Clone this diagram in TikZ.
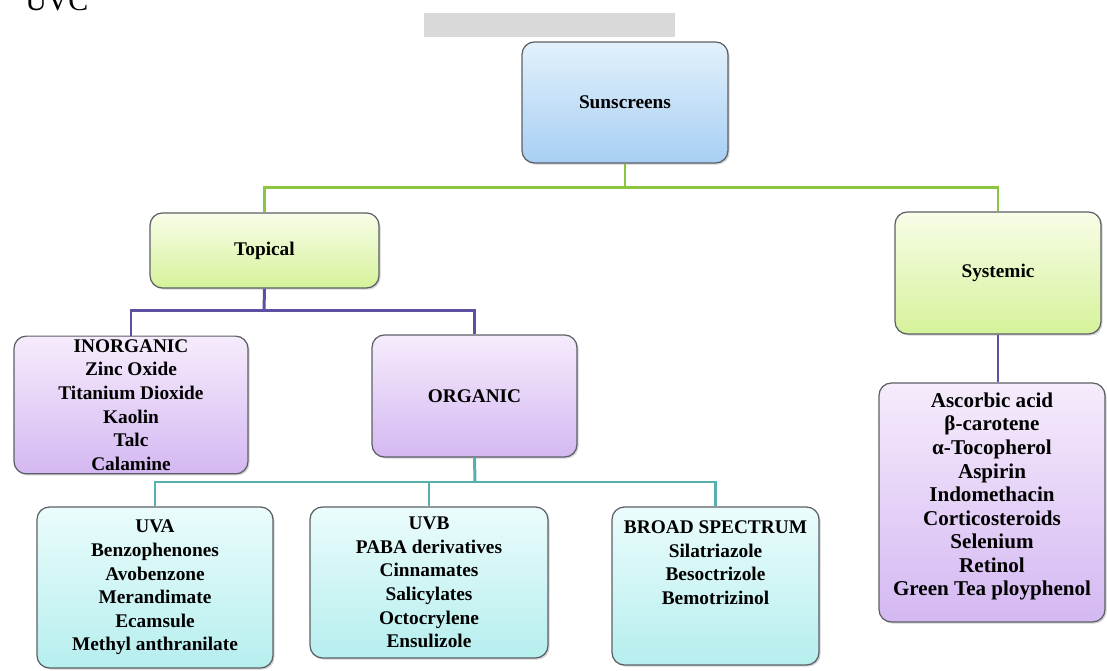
\documentclass[tikz,border=0pt]{standalone}
\usepackage{fontspec}
\setmainfont{Liberation Serif}
\usetikzlibrary{shadows}
\definecolor{skytop}{HTML}{E2F1FB}
\definecolor{skybot}{HTML}{A8CFF4}
\definecolor{limetop}{HTML}{F8FDE8}
\definecolor{limebot}{HTML}{D6F29A}
\definecolor{liltop}{HTML}{F6ECFC}
\definecolor{lilbot}{HTML}{D4B8F2}
\definecolor{aquatop}{HTML}{EBFCFC}
\definecolor{aquabot}{HTML}{B6EEEE}
\definecolor{rim}{HTML}{5C6066}
\definecolor{grass}{HTML}{8CC63F}
\definecolor{plum}{HTML}{5E4FA2}
\definecolor{lagoon}{HTML}{55B0AE}
\definecolor{bargray}{HTML}{D9D9D9}
\begin{document}
\begin{tikzpicture}[x=0.02cm, y=-0.02cm,
  font=\bfseries\fontsize{11}{13.4}\selectfont,
  cell/.style={draw=rim, line width=0.7pt, rounded corners=7pt, align=center, inner sep=2pt,
    drop shadow={shadow xshift=0.9pt, shadow yshift=-0.9pt, opacity=0.35}},
  sky/.style={cell, top color=skytop, bottom color=skybot},
  lime/.style={cell, top color=limetop, bottom color=limebot},
  lilac/.style={cell, top color=liltop, bottom color=lilbot},
  aqua/.style={cell, top color=aquatop, bottom color=aquabot},
  gline/.style={draw=grass, line width=1.7pt},
  pline/.style={draw=plum, line width=1.7pt},
  tline/.style={draw=lagoon, line width=1.7pt}]
\useasboundingbox (0,0) rectangle (1107,671);
\node[anchor=base west, font=\fontsize{17}{17}\selectfont, inner sep=0pt] (uvc) at (25,11) {UVC};
\node[fill=bargray, minimum width=5.02cm, minimum height=0.48cm, inner sep=0pt] (bar) at (549.5,25) {};
\node[sky, minimum width=4.12cm, minimum height=2.42cm] (sun) at (625,102.5) {Sunscreens};
\node[lime, minimum width=4.58cm, minimum height=1.5cm] (top) at (264.5,250.5) {Topical};
\node[lime, minimum width=4.12cm, minimum height=2.44cm] (sys) at (998,273) {Systemic};
\node[lilac, minimum width=4.68cm, minimum height=2.72cm] (inorg) at (131,405)
  {INORGANIC\\Zinc Oxide\\Titanium Dioxide\\Kaolin\\Talc\\Calamine};
\node[lilac, minimum width=4.1cm, minimum height=2.44cm] (org) at (474.5,396) {ORGANIC};
\node[lilac, minimum width=4.52cm, minimum height=4.78cm, font=\bfseries\fontsize{12}{13.4}\selectfont] (slist) at (992,502.5)
  {Ascorbic acid\\β-carotene\\α-Tocopherol\\Aspirin\\Indomethacin\\Corticosteroids\\Selenium\\Retinol\\Green Tea ployphenol\\[-4pt]~};
\node[aqua, minimum width=4.72cm, minimum height=3.22cm] (uva) at (155,587.5)
  {UVA\\Benzophenones\\Avobenzone\\Merandimate\\Ecamsule\\Methyl anthranilate};
\node[aqua, minimum width=4.76cm, minimum height=3.02cm] (uvb) at (429,582.5)
  {UVB\\PABA derivatives\\Cinnamates\\Salicylates\\Octocrylene\\Ensulizole};
\node[aqua, minimum width=4.14cm, minimum height=3.16cm] (broad) at (715.5,586)
  {BROAD SPECTRUM\\Silatriazole\\Besoctrizole\\Bemotrizinol\\~\\~};
\coordinate (sj) at (625,188);
\coordinate (tj) at (264,311);
\coordinate (oj) at (475,482);
\draw[gline] (sun.south) -- (sj);
\draw[gline] (top.north) |- (sj) -| (sys.north);
\draw[pline] (top.south) -- (tj);
\draw[pline] (inorg.north) |- (tj) -| (org.north);
\draw[pline] (sys.south) -- (sys.south |- slist.north);
\draw[tline] (org.south) -- (oj);
\draw[tline] (uva.north) |- (oj) -| (broad.north);
\draw[tline] (uvb.north) -- (uvb.north |- oj);
\end{tikzpicture}
\end{document}
